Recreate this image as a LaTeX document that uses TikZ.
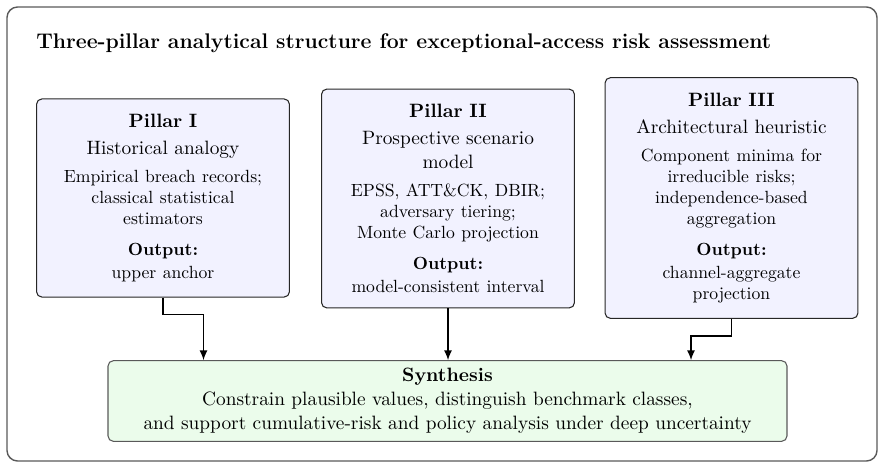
\documentclass[tikz,border=0pt]{standalone}
\usetikzlibrary{arrows.meta,calc}
\newcommand{\fsnormal}{\fontsize{10.95}{13.6}\selectfont}
\newcommand{\fssmall}{\fontsize{10}{12}\selectfont}
\newcommand{\fslarge}{\fontsize{12}{14}\selectfont}
\definecolor{pillarfill}{RGB}{242,242,255}
\definecolor{synfill}{RGB}{235,252,235}
\tikzset{
  frame/.style={draw=black!65,line width=0.8pt,rounded corners=6pt},
  pillar/.style={draw=black!85,line width=0.6pt,fill=pillarfill,rounded corners=3pt,
    text width=120pt,align=center,inner xsep=11.65pt,inner ysep=8.75pt,font=\fsnormal},
  synbox/.style={draw=black!65,line width=0.6pt,fill=synfill,rounded corners=3pt,
    text width=360pt,align=center,inner xsep=12.35pt,inner ysep=4.3pt,font=\fsnormal},
  arr/.style={line width=0.8pt,-{Latex[length=5.5pt,width=4.5pt]}},
  titletext/.style={font=\fslarge\bfseries,inner sep=0pt,anchor=base west}
}
\begin{document}
\begin{tikzpicture}[x=0.5666pt,y=-0.5666pt]
\useasboundingbox (0,0) rectangle (885,468);
\draw[frame] (7,7) rectangle (877,461);
\node[titletext] (title) at (36,48) {Three-pillar analytical structure for exceptional-access risk assessment};

\node[pillar] (p1) at (163,198) {\textbf{Pillar I}\par\vspace{1.7pt}
Historical analogy\par\vspace{3.6pt}
{\fssmall Empirical breach records;\\ classical statistical\\ estimators\par}\vspace{5.3pt}
{\fssmall\textbf{Output:}\par}\vspace{1pt}
{\fssmall upper anchor\par}};

\node[pillar] (p2) at (448,198.5) {\textbf{Pillar II}\par\vspace{1.7pt}
Prospective scenario\\ model\par\vspace{3.6pt}
{\fssmall EPSS, ATT\&CK, DBIR;\\ adversary tiering;\\ Monte Carlo projection\par}\vspace{5.3pt}
{\fssmall\textbf{Output:}\par}\vspace{1pt}
{\fssmall model-consistent interval\par}};

\node[pillar] (p3) at (731.5,198) {\textbf{Pillar III}\par\vspace{1.7pt}
Architectural heuristic\par\vspace{3.6pt}
{\fssmall Component minima for\\ irreducible risks;\\ independence-based\\ aggregation\par}\vspace{5.3pt}
{\fssmall\textbf{Output:}\par}\vspace{1pt}
{\fssmall channel-aggregate\\ projection\par}};

\node[synbox] (syn) at (447.5,401) {\textbf{Synthesis}\\
Constrain plausible values, distinguish benchmark classes,\\
and support cumulative-risk and policy analysis under deep uncertainty};

\coordinate (t1) at ($(syn.north)+(-244,0)$);
\coordinate (t3) at ($(syn.north)+(243.5,0)$);
\draw[arr] (p1.south) -- ++(0,17) -| (t1);
\draw[arr] (p2.south) -- (p2.south |- syn.north);
\draw[arr] (p3.south) -- ++(0,17) -| (t3);
\end{tikzpicture}
\end{document}
